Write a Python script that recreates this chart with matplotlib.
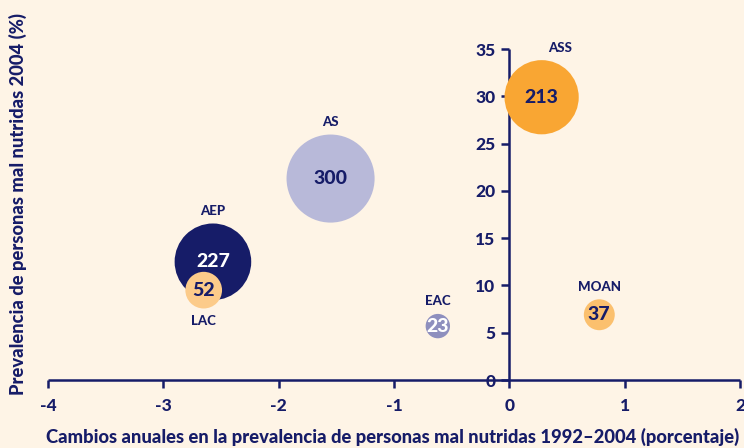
import matplotlib
matplotlib.use("Agg")
import matplotlib.pyplot as plt

regions = ["ASS", "AS", "AEP", "LAC", "EAC", "MOAN"]
x_change = [0.28, -1.55, -2.57, -2.65, -0.62, 0.78]
y_prev = [29.9, 21.3, 12.5, 9.5, 5.7, 6.9]
undernourished = [213, 300, 227, 52, 23, 37]
colors = ["#F9A633", "#B8B9D9", "#161C68", "#FCCB8A", "#8E8FBE", "#FBC06E"]
num_colors = ["#161C68", "#161C68", "#FFFFFF", "#161C68", "#FFFFFF", "#161C68"]
label_pos = ["above_right", "above", "above", "below", "above", "above"]

x_ticks = [-4, -3, -2, -1, 0, 1, 2]
y_ticks = [0, 5, 10, 15, 20, 25, 30, 35]

navy = "#161C68"
bg = "#FEF4E6"
plt.rcParams['font.family'] = ['Lato', 'DejaVu Sans']
W = "black"

fig = plt.figure(figsize=(7.44, 4.48), dpi=100, facecolor=bg)
ax = fig.add_axes([48/744, 68/448, 692/744, 331/448])
ax.set_facecolor(bg)
ax.set_xlim(-4, 2)
ax.set_ylim(0, 35)

scale = 13.4
sizes = [v * scale for v in undernourished]
ax.scatter(x_change, y_prev, s=sizes, c=colors, linewidths=0, zorder=3, clip_on=False)

for xi, yi, v, nc, reg, lp in zip(x_change, y_prev, undernourished, num_colors, regions, label_pos):
    ax.text(xi, yi, str(v), ha="center", va="center", color=nc, fontsize=14,
            fontweight=W, zorder=4)
    r_pt = (v * scale) ** 0.5 / 2
    if lp == "below":
        off = (0, -r_pt - 9)
    elif lp == "above_right":
        off = (13, r_pt + 9)
    else:
        off = (0, r_pt + 9)
    ax.annotate(reg, (xi, yi), xytext=off, textcoords="offset points",
                ha="center", va="center", color=navy, fontsize=9.5, fontweight=W,
                annotation_clip=False)

for s in ["top", "right"]:
    ax.spines[s].set_visible(False)
ax.spines["left"].set_position(("data", 0))
ax.spines["bottom"].set_position(("data", 0))
for s in ["left", "bottom"]:
    ax.spines[s].set_color(navy)
    ax.spines[s].set_linewidth(1.8)
    ax.spines[s].set_capstyle("butt")

ax.set_xticks(x_ticks)
ax.set_yticks(y_ticks)
ax.set_xticklabels([str(t) for t in x_ticks])
ax.set_yticklabels([str(t) for t in y_ticks])
ax.tick_params(axis="x", direction="out", length=6, width=1.8, color=navy,
               labelcolor=navy, labelsize=12.5, pad=7)
ax.tick_params(axis="y", direction="out", length=6, width=1.8, color=navy,
               labelcolor=navy, labelsize=12.5, pad=4)
for lbl in ax.get_xticklabels() + ax.get_yticklabels():
    lbl.set_fontweight(W)

fig.text(393 / 744, 1 - 437 / 448, "Cambios anuales en la prevalencia de personas mal nutridas 1992\u20132004 (porcentaje)",
         ha="center", va="center", color=navy, fontsize=13.2, fontweight=W)
fig.text(18 / 744, 1 - 204 / 448, "Prevalencia de personas mal nutridas 2004 (%)",
         ha="center", va="center", rotation=90, color=navy, fontsize=13.2, fontweight=W)

fig.savefig("out.png", dpi=100, facecolor=bg)
